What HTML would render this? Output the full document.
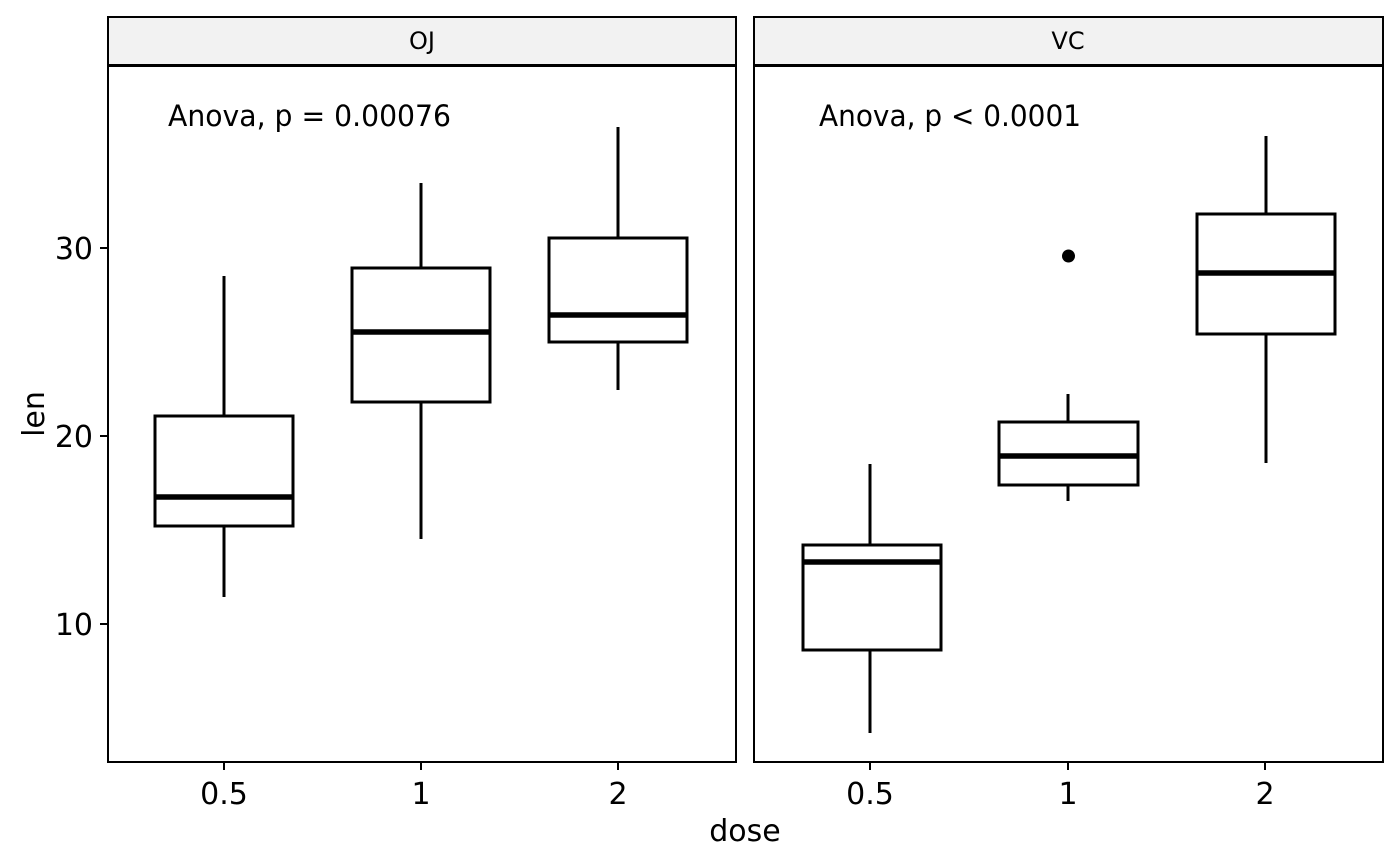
<!DOCTYPE html>
<html><head><style>body{margin:0;background:#fff}svg{display:block}text{font-family:"DejaVu Sans","Liberation Sans",sans-serif;fill:#000}</style></head>
<body>
<svg width="1400" height="866" viewBox="0 0 1400 866" xmlns="http://www.w3.org/2000/svg">
<rect width="1400" height="866" fill="#fff"/>
<rect x="108" y="17" width="628" height="48" fill="#f2f2f2" stroke="#000" stroke-width="2"/>
<rect x="754" y="17" width="629" height="48" fill="#f2f2f2" stroke="#000" stroke-width="2"/>
<text x="422" y="49" font-size="24" text-anchor="middle" fill="#1a1a1a">OJ</text>
<text x="1068" y="49" font-size="24" text-anchor="middle" fill="#1a1a1a">VC</text>
<rect x="108" y="66" width="628" height="696" fill="none" stroke="#000" stroke-width="2"/>
<rect x="754" y="66" width="629" height="696" fill="none" stroke="#000" stroke-width="2"/>
<text x="168" y="126" font-size="29" textLength="283" lengthAdjust="spacingAndGlyphs">Anova, p = 0.00076</text>
<text x="819" y="126" font-size="29" textLength="262" lengthAdjust="spacingAndGlyphs">Anova, p &lt; 0.0001</text>
<g stroke="#000" stroke-width="2">
<line x1="100" y1="248" x2="107" y2="248"/><line x1="100" y1="436" x2="107" y2="436"/><line x1="100" y1="624" x2="107" y2="624"/>
<line x1="224" y1="763" x2="224" y2="770"/><line x1="421" y1="763" x2="421" y2="770"/><line x1="618" y1="763" x2="618" y2="770"/>
<line x1="870" y1="763" x2="870" y2="770"/><line x1="1068" y1="763" x2="1068" y2="770"/><line x1="1265" y1="763" x2="1265" y2="770"/>
</g>
<g font-size="30" text-anchor="end">
<text x="93" y="259">30</text><text x="93" y="447">20</text><text x="93" y="635">10</text>
</g>
<g font-size="30" text-anchor="middle">
<text x="224" y="804">0.5</text><text x="421" y="804">1</text><text x="618" y="804">2</text>
<text x="870" y="804">0.5</text><text x="1068" y="804">1</text><text x="1265" y="804">2</text>
<text x="745" y="841">dose</text>
</g>
<text transform="translate(44,414) rotate(-90)" font-size="30" text-anchor="middle">len</text>
<g stroke="#000" stroke-width="3" fill="#fff">
<line x1="224" y1="276" x2="224" y2="597"/><rect x="155" y="416" width="138" height="110"/>
<line x1="421" y1="183" x2="421" y2="539"/><rect x="352" y="268" width="138" height="134"/>
<line x1="618" y1="127" x2="618" y2="390"/><rect x="549" y="238" width="138" height="104"/>
<line x1="870" y1="464" x2="870" y2="733"/><rect x="803" y="545" width="138" height="105"/>
<line x1="1068" y1="394" x2="1068" y2="501"/><rect x="999" y="422" width="139" height="63"/>
<line x1="1266" y1="136" x2="1266" y2="463"/><rect x="1197" y="214" width="138" height="120"/>
</g>
<g stroke="#000" stroke-width="5.5">
<line x1="155" y1="497" x2="293" y2="497"/>
<line x1="352" y1="332" x2="490" y2="332"/>
<line x1="549" y1="315" x2="687" y2="315"/>
<line x1="803" y1="562" x2="941" y2="562"/>
<line x1="999" y1="456" x2="1138" y2="456"/>
<line x1="1197" y1="273" x2="1335" y2="273"/>
</g>
<circle cx="1068.5" cy="256" r="6.5" fill="#000"/>
</svg>
</body></html>
